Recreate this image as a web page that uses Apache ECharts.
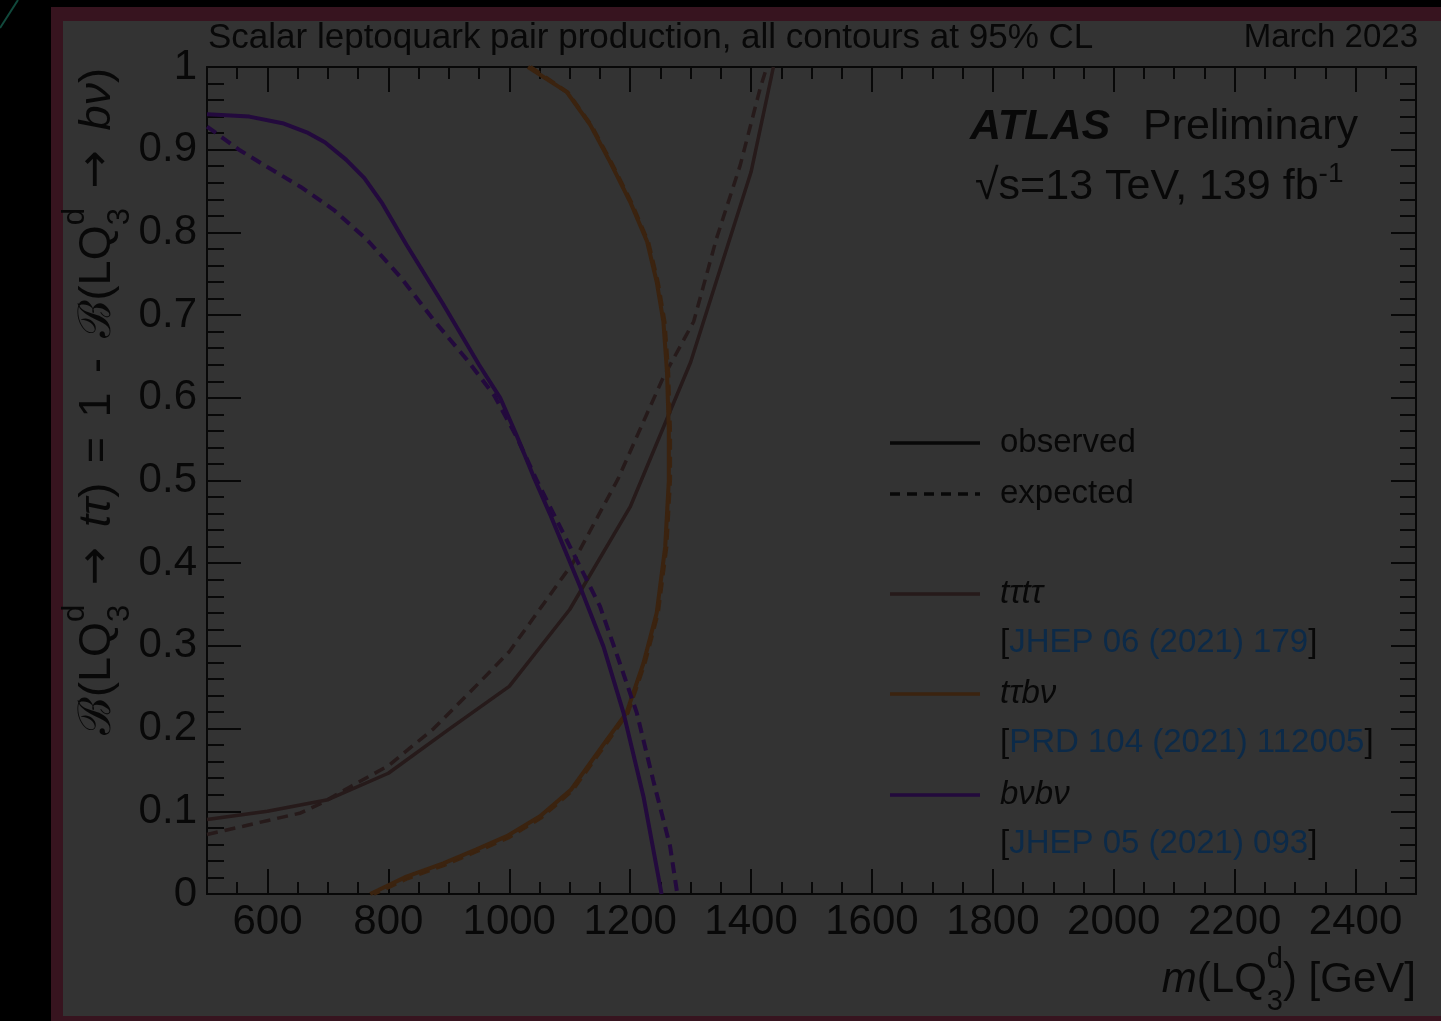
<!DOCTYPE html>
<html>
<head>
<meta charset="utf-8">
<script src="https://cdn.jsdelivr.net/npm/echarts@6/dist/echarts.min.js"></script>
<style>
  html, body { margin: 0; padding: 0; background: #000; }
  #frame { position: absolute; left: 51px; top: 7px; width: 1390px; height: 1014px; background: #37141f; }
  #panel { position: absolute; left: 63px; top: 21px; width: 1378px; height: 995px; background: #333333; }
  #main { position: absolute; left: 0; top: 0; width: 1441px; height: 1021px; }
</style>
</head>
<body>
<div id="frame"></div>
<div id="panel"></div>
<div id="main"></div>
<script>
// contours, [mass GeV, B(LQ -> t tau)]
const tautauObs = [[500, 0.090], [600, 0.100], [700, 0.114], [800, 0.146], [900, 0.199], [1000, 0.251],
  [1100, 0.344], [1200, 0.468], [1300, 0.643], [1400, 0.873], [1437, 1.0]];
const tautauExp = [[500, 0.072], [560, 0.082], [655, 0.098], [690, 0.110], [740, 0.131], [800, 0.155],
  [875, 0.200], [955, 0.259], [1000, 0.293], [1105, 0.400], [1180, 0.502], [1228, 0.581], [1255, 0.625],
  [1305, 0.692], [1343, 0.793], [1382, 0.881], [1415, 0.974], [1426, 1.0]];
const ttbvObs = [[1031, 1.0], [1095, 0.970], [1134, 0.930], [1167, 0.885], [1200, 0.837], [1228, 0.789],
  [1244, 0.740], [1255, 0.692], [1261, 0.631], [1264, 0.560], [1264, 0.500], [1258, 0.420], [1244, 0.340],
  [1222, 0.279], [1194, 0.219], [1161, 0.186], [1102, 0.126], [1051, 0.094], [996, 0.070], [946, 0.054],
  [891, 0.037], [830, 0.021], [770, 0.0]];
const ttbvExp = [[1035, 1.0], [1097, 0.969], [1136, 0.929], [1169, 0.884], [1202, 0.836], [1230, 0.788],
  [1246, 0.739], [1257, 0.691], [1263, 0.630], [1266, 0.560], [1266, 0.500], [1260, 0.420], [1246, 0.340],
  [1224, 0.279], [1196, 0.219], [1163, 0.185], [1104, 0.125], [1052, 0.092], [998, 0.068], [947, 0.052],
  [892, 0.035], [832, 0.019], [776, 0.0]];
const bvbvObs = [[500, 0.943], [570, 0.940], [625, 0.932], [665, 0.921], [695, 0.909], [730, 0.888],
  [760, 0.866], [790, 0.835], [830, 0.785], [890, 0.714], [950, 0.640], [985, 0.600], [1012, 0.555],
  [1040, 0.505], [1067, 0.460], [1117, 0.372], [1156, 0.299], [1189, 0.219], [1222, 0.118], [1252, 0.0]];
const bvbvExp = [[500, 0.928], [555, 0.899], [600, 0.879], [655, 0.855], [710, 0.827], [765, 0.791],
  [820, 0.746], [875, 0.694], [930, 0.646], [975, 0.603], [1012, 0.553], [1045, 0.501], [1106, 0.412],
  [1150, 0.348], [1183, 0.279], [1211, 0.219], [1238, 0.138], [1266, 0.058], [1278, 0.0]];

const xMajor = [600, 800, 1000, 1200, 1400, 1600, 1800, 2000, 2200, 2400];
const refs = ['JHEP 06 (2021) 179', 'PRD 104 (2021) 112005', 'JHEP 05 (2021) 093'];
const channels = ['tτtτ', 'tτbν', 'bνbν'];

const INK = '#080808';
const LINK = '#0c2a48';
const C_TT = '#261a1a';
const C_TB = '#3b230f';
const C_BB = '#230a3d';
const FONT = '"Liberation Sans", Arial, sans-serif';
const ARROW_FONT = '"DejaVu Sans", sans-serif';

// text runs laid out by hand (sub/superscripts)
const mctx = document.createElement('canvas').getContext('2d');
function fstr(p) {
  return (p.italic ? 'italic ' : '') + (p.bold ? 'bold ' : '') + p.size + 'px ' + (p.font || FONT);
}
function tw(t, p) { mctx.font = fstr(p); return mctx.measureText(t).width; }
function txt(x, base, t, p) {
  return {
    type: 'text', x: x, y: base - 0.35 * p.size,
    style: {
      text: t, fill: p.fill || INK, fontSize: p.size, fontFamily: p.font || FONT,
      fontStyle: p.italic ? 'italic' : 'normal', fontWeight: p.bold ? 'bold' : 'normal',
      align: 'left', verticalAlign: 'middle'
    }
  };
}
function runs(parts, target) {
  // optional target width: spread the difference over the gap parts
  let natural = 0, gaps = 0;
  parts.forEach(function (p) {
    if (p.gap !== undefined) { natural += p.gap; gaps++; }
    else if (p.sup !== undefined) natural += Math.max(tw(p.sup, p), tw(p.sub, p));
    else natural += tw(p.t, p);
  });
  const extra = target && gaps ? (target - natural) / gaps : 0;
  let x = 0;
  const els = [];
  parts.forEach(function (p) {
    if (p.gap !== undefined) {
      x += p.gap + extra;
    } else if (p.sup !== undefined) {
      els.push(txt(x, p.supDy, p.sup, p));
      els.push(txt(x, p.subDy, p.sub, p));
      x += Math.max(tw(p.sup, p), tw(p.sub, p));
    } else {
      els.push(txt(x, p.dy || 0, p.t, p));
      x += tw(p.t, p);
    }
  });
  return { els: els, width: x };
}
function placed(r, gx, gy, align, rot) {
  const off = align === 'right' ? -r.width : 0;
  r.els.forEach(function (e) { e.x += off; });
  return { type: 'group', x: gx, y: gy, rotation: rot || 0, children: r.els };
}

const S = 42, s = 29;
const lq = { sup: 'd', sub: '3', size: s, supDy: -25, subDy: 17 };
const xTitle = runs([
  { t: 'm', size: S, italic: true }, { t: '(LQ', size: S }, lq, { t: ') [GeV]', size: S }
]);
const YS = 45;
const lqY = { sup: 'd', sub: '3', size: 31, supDy: -27, subDy: 18 };
const arrowY = { t: '→', size: 46, font: ARROW_FONT };
const yTitle = runs([
  { t: 'ℬ', size: YS }, { t: '(LQ', size: YS }, lqY, { gap: 6 }, arrowY, { gap: 6 },
  { t: 'tτ', size: YS, italic: true }, { t: ')', size: YS }, { gap: 6 }, { t: '=', size: YS }, { gap: 6 },
  { t: '1', size: YS }, { gap: 6 }, { t: '-', size: YS }, { gap: 6 },
  { t: 'ℬ', size: YS }, { t: '(LQ', size: YS }, lqY, { gap: 6 }, arrowY, { gap: 6 },
  { t: 'bν', size: YS, italic: true }, { t: ')', size: YS }
], 667);
const lumi = runs([
  { t: '√s=13 TeV, 139 fb', size: 43 }, { t: '-1', size: 28, dy: -18 }
]);

const legendRows = [
  { y: 443, color: INK, dash: false, label: 'observed' },
  { y: 494, color: INK, dash: true, label: 'expected' },
  { y: 594, color: C_TT, dash: false, label: channels[0], italic: true, ref: refs[0] },
  { y: 694, color: C_TB, dash: false, label: channels[1], italic: true, ref: refs[1] },
  { y: 795, color: C_BB, dash: false, label: channels[2], italic: true, ref: refs[2] }
];
const LF = 33;
const legendEls = [];
legendRows.forEach(function (r) {
  legendEls.push({
    type: 'line', shape: { x1: 890, y1: r.y, x2: 980, y2: r.y },
    style: { stroke: r.color, lineWidth: 3.5, lineDash: r.dash ? [10, 7] : null }
  });
  legendEls.push({
    type: 'text', x: 1000, y: r.y,
    style: { text: r.label, fill: INK, fontSize: LF, fontFamily: FONT, fontStyle: r.italic ? 'italic' : 'normal', verticalAlign: 'middle' }
  });
  if (r.ref) {
    legendEls.push({
      type: 'text', x: 1000, y: r.y + 49,
      style: {
        text: '{k|[}{b|' + r.ref + '}{k|]}', fontSize: LF, fontFamily: FONT, verticalAlign: 'middle',
        rich: { k: { fill: INK, fontSize: LF, fontFamily: FONT }, b: { fill: LINK, fontSize: LF, fontFamily: FONT } }
      }
    });
  }
});

function tickLine(w) { return { color: INK, width: w }; }
const xMinorAxis = function (pos) {
  return {
    type: 'value', position: pos, min: 500, max: 2500, interval: 50,
    axisLine: { show: true, onZero: false, lineStyle: tickLine(2) },
    axisTick: { show: true, inside: true, length: 12, lineStyle: tickLine(2) },
    axisLabel: { show: false }, splitLine: { show: false }
  };
};
const xMajorAxis = function (pos, labels) {
  return {
    type: 'value', position: pos, min: 500, max: 2500,
    axisLine: { show: false, onZero: false },
    axisTick: { show: true, inside: true, length: 25, customValues: xMajor, lineStyle: tickLine(2) },
    axisLabel: {
      show: labels, customValues: xMajor, margin: 7, color: INK, fontSize: 42, fontFamily: FONT,
      formatter: function (v) { return String(v); }
    },
    splitLine: { show: false }
  };
};
const yAxisOf = function (pos, labels, major, minor) {
  return {
    type: 'value', position: pos, min: 0, max: 1, interval: 0.1,
    axisLine: { show: true, onZero: false, lineStyle: tickLine(2) },
    axisTick: { show: true, inside: true, length: major, lineStyle: tickLine(2) },
    minorTick: { show: true, splitNumber: 5, length: minor, lineStyle: tickLine(2) },
    axisLabel: { show: labels, margin: 10, color: INK, fontSize: 42, fontFamily: FONT },
    splitLine: { show: false }, minorSplitLine: { show: false }
  };
};

function curve(name, data, color, width, dashed) {
  return {
    name: name, type: 'line', data: data, xAxisIndex: 0, yAxisIndex: 0,
    showSymbol: false, symbol: 'none', smooth: false,
    lineStyle: { color: color, width: width, type: dashed ? [11, 7] : 'solid' }
  };
}

const chart = echarts.init(document.getElementById('main'), null, { renderer: 'canvas' });
chart.setOption({
  animation: false,
  backgroundColor: 'transparent',
  grid: { left: 207, right: 25, top: 67, bottom: 127, containLabel: false },
  xAxis: [xMinorAxis('bottom'), xMajorAxis('bottom', true), xMinorAxis('top'), xMajorAxis('top', false)],
  yAxis: [yAxisOf('left', true, 34, 17), yAxisOf('right', false, 25, 16)],
  series: [
    curve('tautau exp', tautauExp, C_TT, 3.5, true),
    curve('tautau obs', tautauObs, C_TT, 3.5, false),
    curve('ttbv exp', ttbvExp, C_TB, 4, true),
    curve('ttbv obs', ttbvObs, C_TB, 4, false),
    curve('bvbv exp', bvbvExp, C_BB, 4, true),
    curve('bvbv obs', bvbvObs, C_BB, 4, false)
  ],
  graphic: [
    { type: 'line', shape: { x1: 0, y1: 28, x2: 18, y2: 0 }, style: { stroke: '#11493c', lineWidth: 2 } },
    {
      type: 'text', x: 208, y: 38,
      style: { text: 'Scalar leptoquark pair production, all contours at 95% CL', fill: INK, fontSize: 35, fontFamily: FONT, verticalAlign: 'middle' }
    },
    {
      type: 'text', x: 1418, y: 38,
      style: { text: 'March 2023', fill: INK, fontSize: 33, fontFamily: FONT, align: 'right', verticalAlign: 'middle' }
    },
    {
      type: 'text', x: 970, y: 127,
      style: { text: 'ATLAS', fill: INK, fontSize: 43, fontWeight: 'bold', fontStyle: 'italic', fontFamily: FONT, verticalAlign: 'middle' }
    },
    {
      type: 'text', x: 1143, y: 127,
      style: { text: 'Preliminary', fill: INK, fontSize: 43, fontFamily: FONT, verticalAlign: 'middle' }
    },
    placed(lumi, 975, 202, 'left'),
    placed(xTitle, 1416, 995, 'right'),
    placed(yTitle, 113, 68, 'right', Math.PI / 2)
  ].concat(legendEls)
});
</script>
</body>
</html>
